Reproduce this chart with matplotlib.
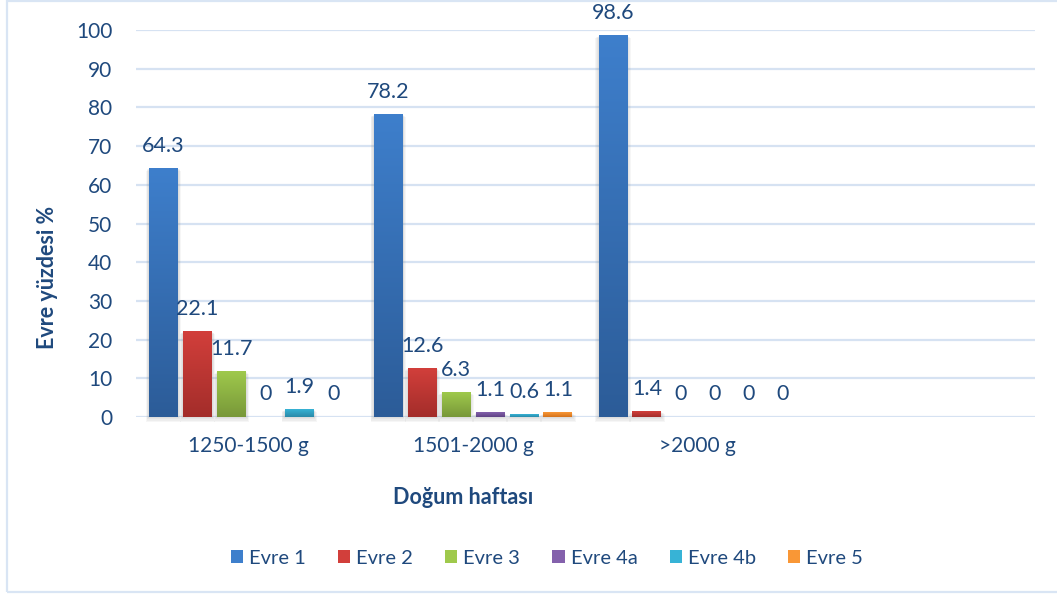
import numpy as np
import matplotlib
matplotlib.use("Agg")
import matplotlib.pyplot as plt
from matplotlib.patches import Rectangle, Patch
from matplotlib.colors import LinearSegmentedColormap

plt.rcParams['font.family'] = ['Lato', 'DejaVu Sans']

groups = ["1250-1500 g", "1501-2000 g", ">2000 g", ""]
series = ["Evre 1", "Evre 2", "Evre 3", "Evre 4a", "Evre 4b", "Evre 5"]
evre1 = [64.3, 78.2, 98.6]
evre2 = [22.1, 12.6, 1.4]
evre3 = [11.7, 6.3, 0]
evre4a = [0, 1.1, 0]
evre4b = [1.9, 0.6, 0]
evre5 = [0, 1.1, 0]
values = [evre1, evre2, evre3, evre4a, evre4b, evre5]

# gradient fills: (top, bottom)
GRAD = [("#3e7fcc", "#2c5c98"), ("#d23f3b", "#a32d2a"), ("#9fc94c", "#789839"),
        ("#8461ac", "#5f4384"), ("#37b3d6", "#2a8aa8"), ("#f99736", "#d4731c")]
TXT = "#1f497d"
GRID = "#d6e2f2"

fig = plt.figure(figsize=(10.57, 5.94), dpi=100)
ax = fig.add_axes([136/1057, 1-417/594, 899/1057, 387/594])

xlo, xhi = -0.5, len(groups) - 0.5
ylo, yhi = 0, 100
step, width = 0.151, 0.129
pxx = 899 / (xhi - xlo)     # pixels per x unit
pxy = 387 / (yhi - ylo)     # pixels per y unit

for i, (vals, (ctop, cbot)) in enumerate(zip(values, GRAD)):
    cmap = LinearSegmentedColormap.from_list(f"g{i}", [cbot, ctop])
    for g, v in enumerate(vals):
        xc = g + (i - 2.5) * step
        x0 = xc - width / 2
        if v > 0:
            # soft drop shadow
            for k in range(1, 5):
                ax.add_patch(Rectangle((x0 - k*0.8/pxx, -k*1.2/pxy), width + 2*k*0.8/pxx, v + k*0.6/pxy,
                                       facecolor="#808080", edgecolor="none", alpha=0.07,
                                       zorder=2, clip_on=False))
            grad = np.linspace(0, 1, 256).reshape(-1, 1)
            ax.imshow(grad, cmap=cmap, origin="lower", aspect="auto",
                      extent=(x0, x0 + width, 0, v), zorder=3, interpolation="bilinear")
        ax.annotate(f"{v:g}", (xc, v), xytext=(0, 9), textcoords="offset points",
                    ha="center", va="bottom", fontsize=15.5, color=TXT, zorder=5)

ax.set_xlim(xlo, xhi)
ax.set_ylim(ylo, yhi)
ax.set_yticks(np.arange(0, 101, 10))
ax.set_xticks(range(len(groups)))
ax.set_xticklabels(groups)
ax.tick_params(axis="both", length=0, labelsize=15, labelcolor=TXT)
ax.tick_params(axis="y", pad=17)
ax.tick_params(axis="x", pad=14)
ax.grid(axis="y", color=GRID, linewidth=1.6, zorder=0)
ax.set_axisbelow(True)
for s in ax.spines.values():
    s.set_visible(False)

fig.text(48/1057, 1-277/594, "Evre yüzdesi %", rotation=90, ha="center", va="center",
         fontsize=15.5, fontweight="bold", color=TXT)
fig.text(463/1057, 1-498/594, "Doğum haftası", ha="center", va="center",
         fontsize=15.5, fontweight="bold", color=TXT)

handles = [Patch(facecolor=c[0], edgecolor="none", label=s) for s, c in zip(series, GRAD)]
fig.legend(handles=handles, loc="center", bbox_to_anchor=(547/1057, 1-558/594), ncol=6,
           frameon=False, fontsize=14.5, labelcolor=TXT, handlelength=0.6, handleheight=0.6,
           handletextpad=0.3, columnspacing=1.6)

# chart frame
fig.add_artist(Rectangle((7/1057, 2/594), 1.1, 1 - 2.5/594, transform=fig.transFigure,
                         facecolor="none", edgecolor="#d9e5f4", linewidth=1.6, clip_on=False))

fig.savefig("out.png", dpi=100)
